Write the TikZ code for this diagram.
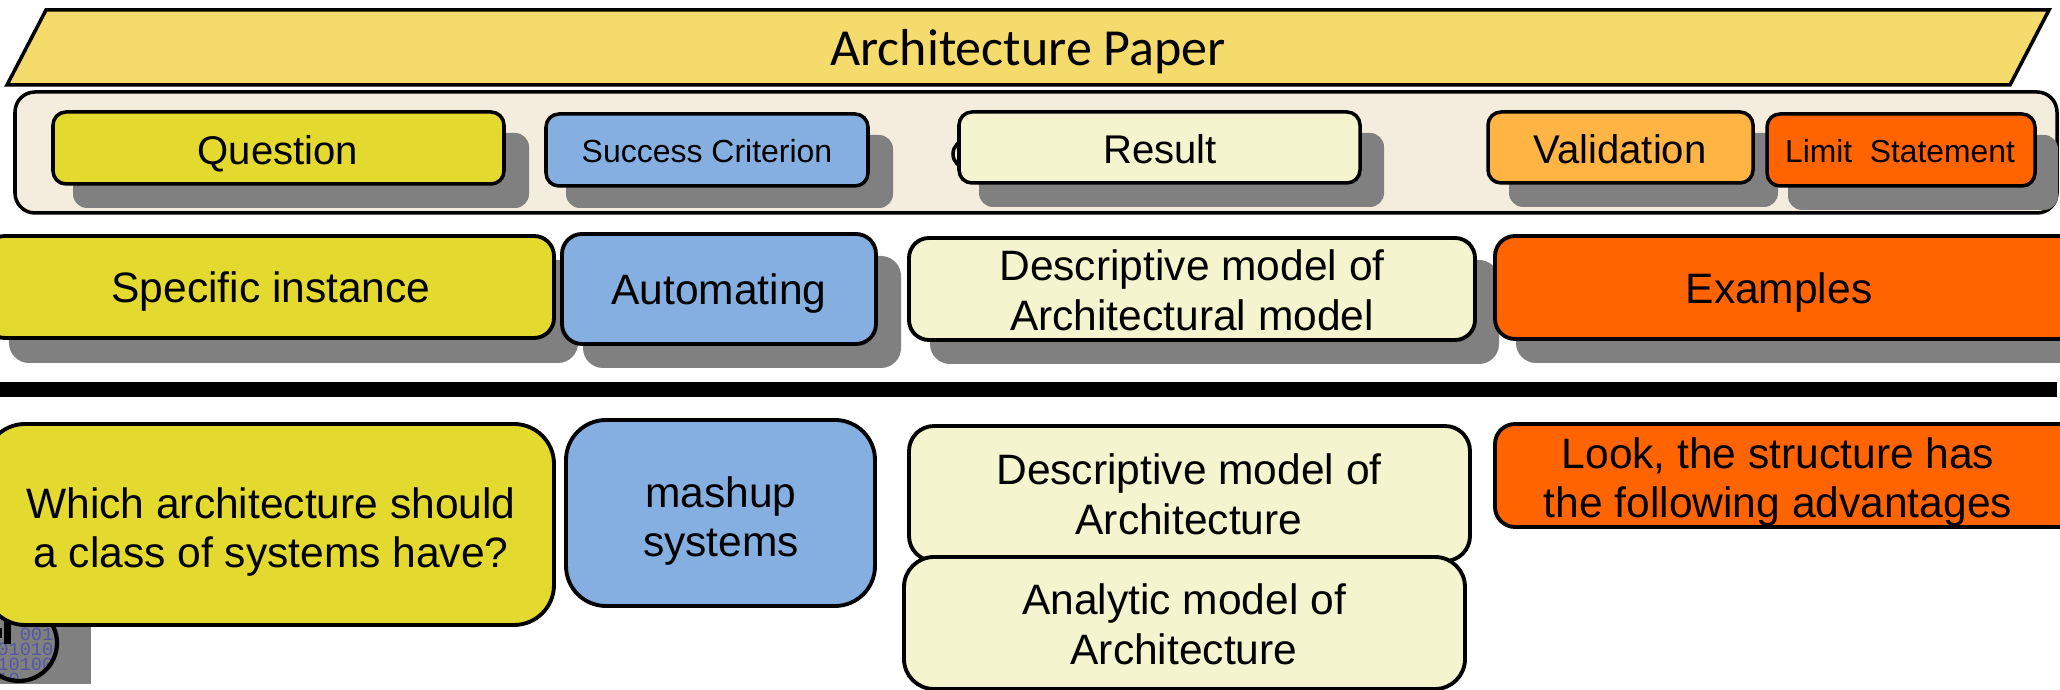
\documentclass[tikz,border=0pt]{standalone}
\usepackage{xcolor}
\usepackage{fontspec}
\setmainfont{Liberation Sans}
\newfontfamily\titlefont{Carlito}
\newfontfamily\bitfont{Liberation Mono}
\definecolor{titleyellow}{HTML}{F5DB6B}
\definecolor{panelcream}{HTML}{F4EDDE}
\definecolor{cardyellow}{HTML}{E3D92F}
\definecolor{cardblue}{HTML}{84AFE0}
\definecolor{cardpale}{HTML}{F4F4CE}
\definecolor{cardamber}{HTML}{FFB444}
\definecolor{cardorange}{HTML}{FF6400}
\definecolor{shadowgray}{HTML}{808080}
\definecolor{bitblue}{HTML}{5555A5}
\tikzset{
    shadowbox/.style={fill=shadowgray, rounded corners=0.14cm},
    card/.style={draw=black, line width=1pt, rounded corners=0.13cm},
    bigcard/.style={draw=black, line width=1.1pt, rounded corners=0.2cm},
    headtext/.style={font=\fontsize{11.4}{14}\selectfont, inner sep=0pt},
    bodytext/.style={font=\fontsize{12.1}{14.2}\selectfont, align=center, inner sep=0pt},
    bittext/.style={font=\fontsize{5.3}{4.27}\selectfont\bitfont, text=bitblue, align=right, anchor=east, inner sep=0pt},
}
\begin{document}
\begin{tikzpicture}[x=1cm, y=1cm]
    \useasboundingbox (0,0) rectangle (20.6,6.9);

    % Title
    \draw[line width=1pt, fill=titleyellow] (0.07,6.05) -- (0.46,6.80) -- (20.49,6.80) -- (20.10,6.05) -- cycle;
    \node[font=\fontsize{14.8}{17}\selectfont\titlefont, inner sep=0pt] (title) at (10.28,6.38) {Architecture Paper};

    % Panel
    \draw[line width=1pt, fill=panelcream, rounded corners=0.2cm] (0.15,4.77) rectangle (20.57,5.98);

    % Logo corner
    \fill[shadowgray] (0,0.06) rectangle (0.91,1.1);
    \begin{scope}
        \clip (0.19,0.47) circle (0.38);
        \node[bittext] (bits) at (0.54,0.33) {001\\01010\\10100\\10\phantom{100}};
    \end{scope}
    \draw[line width=1.2pt] (0.19,0.47) circle (0.38);
    \fill[black] (0.04,0.46) rectangle (0.11,0.75);
    \fill[black] (0,0.52) rectangle (0.02,0.62);

    % Heads
    \fill[shadowbox] (0.73,4.82) rectangle (5.29,5.57);
    \draw[card, fill=cardyellow] (0.53,5.06) rectangle (5.04,5.78);
    \node[headtext] (question) at (2.78,5.36) {Question};

    \fill[shadowbox] (5.66,4.82) rectangle (8.93,5.55);
    \draw[card, fill=cardblue] (5.46,5.04) rectangle (8.68,5.76);
    \node[headtext, font=\fontsize{9.1}{11}\selectfont] (success) at (7.07,5.39) {Success Criterion};

    \draw[line width=1pt] (9.67,5.36) circle (0.14);
    \fill[shadowbox] (9.79,4.83) rectangle (13.84,5.57);
    \draw[card, fill=cardpale] (9.59,5.07) rectangle (13.60,5.78);
    \node[headtext] (result) at (11.60,5.41) {Result};

    \fill[shadowbox] (15.09,4.83) rectangle (17.78,5.57);
    \draw[card, fill=cardamber] (14.88,5.07) rectangle (17.53,5.78);
    \node[headtext] (validation) at (16.20,5.41) {Validation};

    \fill[shadowbox] (17.88,4.80) rectangle (20.58,5.55);
    \draw[card, fill=cardorange] (17.67,5.04) rectangle (20.35,5.76);
    \node[headtext, font=\fontsize{9.05}{11}\selectfont] (limit) at (19.00,5.39) {Limit\ \ Statement};

    % Middle row
    \fill[shadowbox, rounded corners=0.2cm] (0.09,3.27) rectangle (5.78,4.30);
    \draw[bigcard, fill=cardyellow] (-0.15,3.52) rectangle (5.54,4.54);
    \node[bodytext] (instance) at (2.71,3.98) {Specific instance};

    \fill[shadowbox, rounded corners=0.2cm] (5.83,3.22) rectangle (9.01,4.34);
    \draw[bigcard, fill=cardblue] (5.62,3.46) rectangle (8.76,4.56);
    \node[bodytext] (automating) at (7.19,3.96) {Automating};

    \fill[shadowbox, rounded corners=0.2cm] (9.30,3.26) rectangle (14.99,4.30);
    \draw[bigcard, fill=cardpale] (9.09,3.50) rectangle (14.75,4.52);
    \node[bodytext] (descmodel) at (11.92,4.00) {Descriptive model of\\Architectural model};

    \fill[shadowbox, rounded corners=0.2cm] (15.16,3.27) rectangle (21,4.30);
    \draw[bigcard, fill=cardorange] (14.95,3.51) rectangle (21,4.54);
    \node[bodytext] (examples) at (17.79,3.97) {Examples};

    % Divider
    \fill[black] (0,2.93) rectangle (20.57,3.08);

    % Lower row
    \draw[bigcard, rounded corners=0.4cm, fill=cardyellow] (-0.15,0.65) rectangle (5.54,2.66);
    \node[bodytext] (which) at (2.71,1.58) {Which architecture should\\a class of systems have?};

    \draw[bigcard, rounded corners=0.4cm, fill=cardblue] (5.66,0.84) rectangle (8.75,2.70);
    \node[bodytext] (mashup) at (7.21,1.69) {mashup\\systems};

    \draw[bigcard, rounded corners=0.25cm, fill=cardpale] (9.09,1.29) rectangle (14.70,2.64);
    \node[bodytext] (descarch) at (11.89,1.96) {Descriptive model of\\Architecture};

    \draw[bigcard, rounded corners=0.3cm, fill=cardpale] (9.04,0.01) rectangle (14.65,1.33);
    \node[bodytext] (analytic) at (11.84,0.66) {Analytic model of\\Architecture};

    \draw[bigcard, fill=cardorange] (14.95,1.63) rectangle (21,2.66);
    \node[bodytext] (look) at (17.78,2.08) {Look, the structure has\\the following advantages};
\end{tikzpicture}
\end{document}
